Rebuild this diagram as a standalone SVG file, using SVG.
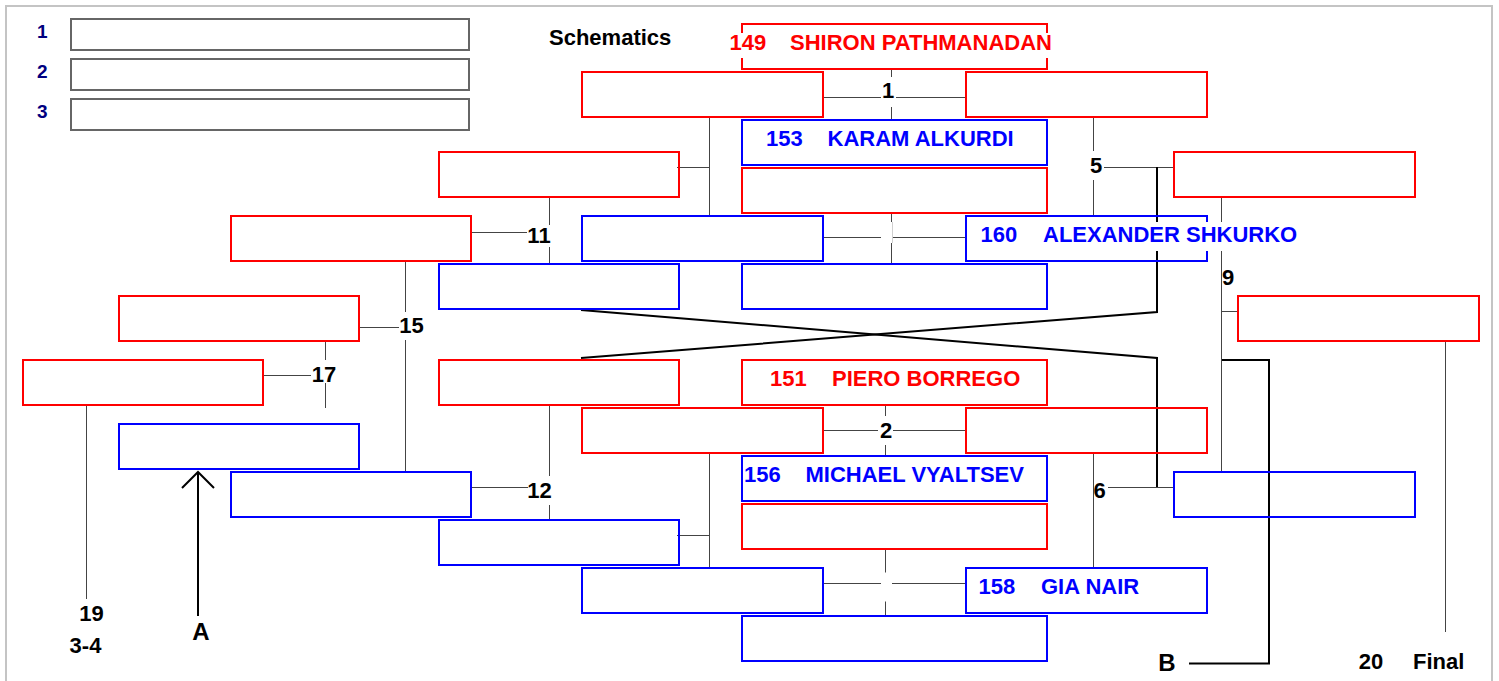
<svg xmlns="http://www.w3.org/2000/svg" width="1499" height="681" viewBox="0 0 1499 681">
<style>
  text { font-family: "Liberation Sans", Arial, Helvetica, sans-serif; font-weight: bold; }
  .r { fill: none; stroke: #ff0000; stroke-width: 2; }
  .b { fill: none; stroke: #0000ff; stroke-width: 2; }
  .lg { fill: none; stroke: #666666; stroke-width: 2; }
  .thin { fill: none; stroke: #444444; stroke-width: 1; }
  .faint { fill: none; stroke: #d0d0d0; stroke-width: 1; }
  .thick { fill: none; stroke: #000000; stroke-width: 2; }
  .nm { font-size: 22px; }
  .nr { fill: #ff0000; }
  .nb { fill: #0000ff; }
  .lbl { font-size: 22px; fill: #000000; text-anchor: middle; }
  .big { font-size: 24px; }
  .leg { font-size: 19px; fill: #000080; }
  .bg { fill: #ffffff; }
</style>
<rect x="0" y="0" width="1499" height="681" fill="#ffffff"/>
<rect x="6" y="6" width="1486" height="700" fill="none" stroke="#c4c4c4" stroke-width="2"/>

<g id="legend">
  <rect class="lg" x="71" y="19" width="398" height="31"/>
  <rect class="lg" x="71" y="59" width="398" height="31"/>
  <rect class="lg" x="71" y="99" width="398" height="31"/>
  <text class="leg" x="37" y="38">1</text>
  <text class="leg" x="37" y="78">2</text>
  <text class="leg" x="37" y="118">3</text>
</g>
<text x="549" y="45" font-size="22" fill="#000">Schematics</text>

<g id="connectors">
  <path class="thin" d="M822,97.5H881M896,97.5H965M891.5,70V77M891.5,107V120"/>
  <path class="thin" d="M822,237.5H881M892,237.5H965M891.5,214V222M891.5,243V264"/>
  <path class="faint" d="M892.5,222V243"/>
  <path class="thin" d="M822,430.5H878M893,430.5H965M885.5,406V416M885.5,445V455"/>
  <path class="thin" d="M822,583.5H881M892,583.5H965M885.5,550V572.5M885.5,601.5V616"/>
  <path class="thin" d="M709.5,118V216M677,167.5H709.5"/>
  <path class="thin" d="M709.5,454V568M677,535.5H709.5"/>
  <path class="thin" d="M1093.5,118V151M1093.5,180V216M1104,167.5H1173"/>
  <path class="thin" d="M1093.5,454V568M1108,487.5H1173"/>
  <path class="thin" d="M1221.5,198V472M1222,311.5H1237"/>
  <path class="thin" d="M549.5,198V225M549.5,247V264M472,232.5H527"/>
  <path class="thin" d="M549.5,406V476M549.5,505V520M472,487.5H528"/>
  <path class="thin" d="M405.5,262V312M405.5,340V472M358,327.5H399"/>
  <path class="thin" d="M325.5,342V360M325.5,383V408M262,375.5H311"/>
  <path class="thin" d="M86.5,406V599"/>
  <path class="thin" d="M1445.5,342V632"/>
  <path class="thick" d="M581,310L1157,358V487"/>
  <path class="thick" d="M581,358L1157,312V167"/>
  <path class="thick" d="M1189,663.5H1269V360H1222"/>
  <path class="thick" d="M198,616V472M182,488L198,472L214,488"/>
  <text class="lbl" x="888" y="98">1</text>
  <text class="lbl" x="886" y="438">2</text>
  <text class="lbl" x="1096" y="173">5</text>
  <text class="lbl" x="1099.5" y="498">6</text>
  <text class="lbl" x="1228" y="285">9</text>
  <text class="lbl" x="539" y="243">11</text>
  <text class="lbl" x="539.5" y="498">12</text>
  <text class="lbl" x="411.5" y="333">15</text>
  <text class="lbl" x="324" y="381.5">17</text>
  <text class="lbl" x="91.5" y="621">19</text>
  <text class="lbl" x="85.5" y="653">3-4</text>
  <text class="lbl big" x="201" y="640">A</text>
  <text class="lbl big" x="1167" y="671">B</text>
  <text class="lbl" x="1371" y="669">20</text>
  <text x="1413" y="669" font-size="22" fill="#000">Final</text>
</g>

<g id="n149">
  <rect class="r" x="742" y="24" width="305" height="45"/>
  <rect class="bg" x="728" y="33" width="330" height="25"/>
  <text class="nm nr" y="50"><tspan x="729.5">149</tspan><tspan x="790">SHIRON PATHMANADAN</tspan></text>
</g>
<g id="n153">
  <rect class="b" x="742" y="120" width="305" height="45"/>
  <text class="nm nb" y="146"><tspan x="766">153</tspan><tspan x="827.5">KARAM ALKURDI</tspan></text>
</g>
<g id="c3"><rect class="r" x="742" y="168" width="305" height="45"/></g>
<g id="c4"><rect class="b" x="742" y="264" width="305" height="45"/></g>
<g id="n151">
  <rect class="r" x="742" y="360" width="305" height="45"/>
  <text class="nm nr" y="386"><tspan x="770">151</tspan><tspan x="832">PIERO BORREGO</tspan></text>
</g>
<g id="n156">
  <rect class="b" x="742" y="456" width="305" height="45"/>
  <text class="nm nb" y="482"><tspan x="744">156</tspan><tspan x="805.5">MICHAEL VYALTSEV</tspan></text>
</g>
<g id="c7"><rect class="r" x="742" y="504" width="305" height="45"/></g>
<g id="c8"><rect class="b" x="742" y="616" width="305" height="45"/></g>

<g id="m1a"><rect class="r" x="582" y="72" width="241" height="45"/></g>
<g id="m1b"><rect class="r" x="966" y="72" width="241" height="45"/></g>
<g id="m3a"><rect class="b" x="582" y="216" width="241" height="45"/></g>
<g id="n160">
  <rect class="b" x="966" y="216" width="241" height="45"/>
  <rect class="bg" x="979" y="222" width="322" height="29"/>
  <text class="nm nb" y="242"><tspan x="980.5">160</tspan><tspan x="1043">ALEXANDER SHKURKO</tspan></text>
</g>
<g id="m2a"><rect class="r" x="582" y="408" width="241" height="45"/></g>
<g id="m2b"><rect class="r" x="966" y="408" width="241" height="45"/></g>
<g id="m4a"><rect class="b" x="582" y="568" width="241" height="45"/></g>
<g id="n158">
  <rect class="b" x="966" y="568" width="241" height="45"/>
  <text class="nm nb" y="594"><tspan x="978.5">158</tspan><tspan x="1041">GIA NAIR</tspan></text>
</g>

<g id="l1"><rect class="r" x="439" y="152" width="240" height="45"/></g>
<g id="l2"><rect class="b" x="439" y="264" width="240" height="45"/></g>
<g id="l3"><rect class="r" x="439" y="360" width="240" height="45"/></g>
<g id="l4"><rect class="b" x="439" y="520" width="240" height="45"/></g>
<g id="l11"><rect class="r" x="231" y="216" width="240" height="45"/></g>
<g id="l12"><rect class="b" x="231" y="472" width="240" height="45"/></g>
<g id="l15"><rect class="r" x="119" y="296" width="240" height="45"/></g>
<g id="l15b"><rect class="b" x="119" y="424" width="240" height="45"/></g>
<g id="l17"><rect class="r" x="23" y="360" width="240" height="45"/></g>

<g id="r5"><rect class="r" x="1174" y="152" width="241" height="45"/></g>
<g id="r6"><rect class="b" x="1174" y="472" width="241" height="45"/></g>
<g id="r9"><rect class="r" x="1238" y="296" width="241" height="45"/></g>
</svg>
